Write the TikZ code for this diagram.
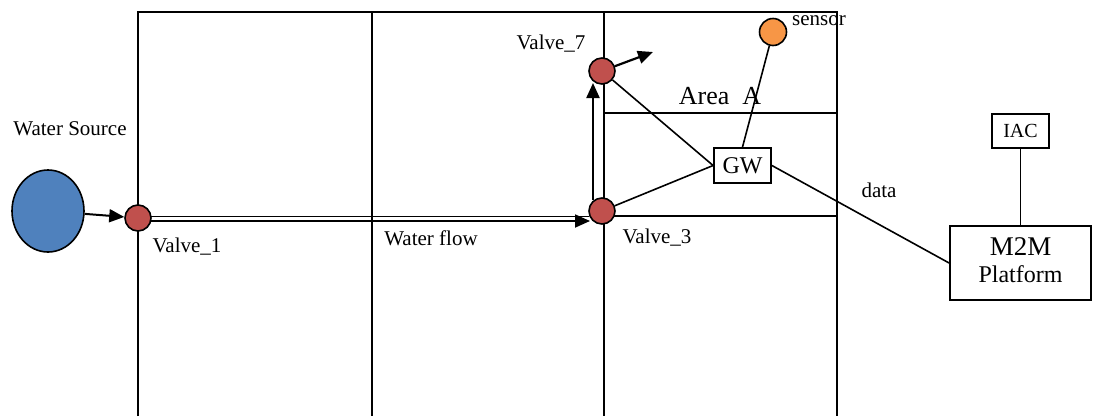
\documentclass[tikz,border=0pt]{standalone}
\usepackage{fontspec}
\setmainfont{Liberation Serif}
\usetikzlibrary{arrows.meta,shapes.geometric}
\definecolor{valvered}{HTML}{C0504D}
\definecolor{srcblue}{HTML}{4F81BD}
\definecolor{sensorange}{HTML}{F79646}
\begin{document}
\begin{tikzpicture}[x=1pt,y=-1pt,
  grid/.style={line width=1.8pt},
  conn/.style={line width=1.6pt},
  flow/.style={line width=2.2pt,-{Triangle[length=15pt,width=13pt]}},
  valve/.style={circle,draw,line width=1.6pt,fill=valvered,minimum size=26pt,inner sep=0pt},
  lbl/.style={font=\fontsize{21}{24}\selectfont,inner sep=0pt},
  boxnode/.style={draw,line width=1.8pt,fill=white,inner sep=0pt}
]
\useasboundingbox (0,0) rectangle (1093,416);
% grid
\draw[grid] (138,416) -- (138,12) -- (837,12) -- (837,416);
\draw[grid] (372,12) -- (372,416);
\draw[grid] (604,12) -- (604,416);
\draw[grid] (604,113) -- (837,113);
\draw[grid] (604,216) -- (837,216);
% nodes
\node[ellipse,draw,line width=1.6pt,fill=srcblue,minimum width=72pt,minimum height=82pt,inner sep=0pt] (src) at (48,211) {};
\node[valve] (v1) at (138,218) {};
\node[valve] (v3) at (602,211) {};
\node[valve] (v7) at (602,71) {};
\node[circle,draw,line width=1.6pt,fill=sensorange,minimum size=27pt,inner sep=0pt] (sens) at (773,32) {};
\node[boxnode,minimum width=57pt,minimum height=35pt,font=\fontsize{24}{27}\selectfont] (gw) at (742.5,165.5) {GW};
\node[boxnode,minimum width=57pt,minimum height=34pt,font=\fontsize{20}{23}\selectfont] (iac) at (1020.5,131) {IAC};
\node[boxnode,minimum width=141pt,minimum height=74pt] (m2m) at (1020.5,263) {};
\node[font=\fontsize{27}{30}\selectfont,inner sep=0pt] (lm2m) at (1020.5,247) {M2M};
\node[font=\fontsize{24}{27}\selectfont,inner sep=0pt] (lplat) at (1020.5,274) {Platform};
% labels
\node[lbl] (lws) at (70,129) {Water Source};
\node[lbl] (lv1) at (187,247) {Valve\_1};
\node[lbl] (lwf) at (431,238) {Water flow};
\node[lbl] (lv3) at (657,238) {Valve\_3};
\node[lbl] (lv7) at (551,44) {Valve\_7};
\node[lbl] (lsn) at (819,21) {sensor};
\node[font=\fontsize{26}{28}\selectfont,inner sep=0pt] (la) at (720,96) {Area\ \ A};
\node[lbl] (ldata) at (879,190) {data};
% connectors
\draw[conn,line width=2pt,-{Triangle[length=15pt,width=13pt]}] (src) -- (v1);
\coordinate (h1a) at (151,216.5);
\coordinate (h1b) at (589,216.5);
\coordinate (h2a) at (151,221);
\coordinate (h2b) at (590,221);
\draw[conn] (h1a) -- (h1b);
\draw[flow,line width=1.8pt] (h2a) -- (h2b);
\coordinate (va) at (593,200);
\coordinate (vb) at (593,83);
\draw[flow] (va) -- (vb);
\coordinate (v7out) at (653,52);
\draw[flow] (v7) -- (v7out);
\draw[conn] (v7) -- (gw.west);
\draw[conn] (v3) -- (gw.west);
\draw[conn] (sens) -- (gw.north);
\draw[conn] (gw.east) -- (m2m.west);
\draw[conn] (iac.south) -- (m2m.north);
\end{tikzpicture}
\end{document}
